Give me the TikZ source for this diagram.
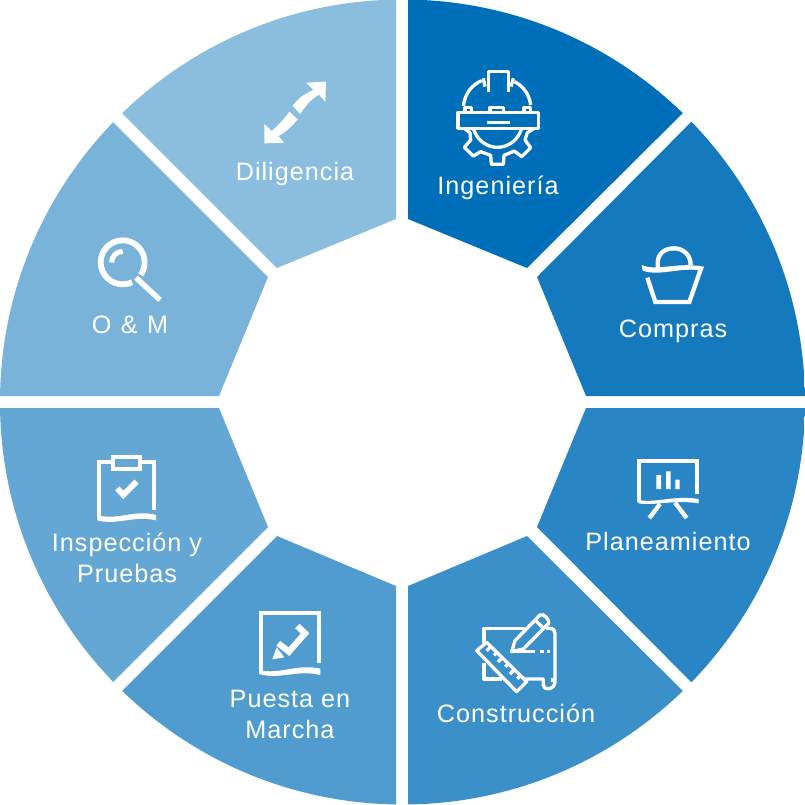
\documentclass[tikz,border=0pt]{standalone}
\usepackage{fontspec}
\setmainfont[LetterSpace=4]{Liberation Sans}
\definecolor{cA}{HTML}{006FB9}
\definecolor{cB}{HTML}{1579BE}
\definecolor{cC}{HTML}{2A85C4}
\definecolor{cD}{HTML}{3C90C9}
\definecolor{cE}{HTML}{509CCE}
\definecolor{cF}{HTML}{65A7D4}
\definecolor{cG}{HTML}{7AB3DA}
\definecolor{cH}{HTML}{8BBDDF}
\tikzset{
  lab/.style={text=white,align=center,inner sep=0pt,font=\fontsize{25.2}{31}\selectfont},
  ico/.style={draw=white,line width=4.3pt,line join=miter,fill=none},
  icothin/.style={draw=white,line width=3.3pt,line join=round,fill=none},
  zoomed/.style={scale=1/3}
}
\begin{document}
\begin{tikzpicture}[x=1pt,y=1pt,yscale=-1]
\useasboundingbox (0,0) rectangle (805,804);
\begin{scope}
\clip (402.5,402) circle (402.5);
\fill[cA] (408,-20) -- (408,219) -- (527,268) -- (703,93) -- (703,-20) -- cycle;
\fill[cB] (711,102) -- (537,277) -- (586,396) -- (825,396) -- (825,102) -- cycle;
\fill[cC] (825,408) -- (586,408) -- (537,527) -- (711,702) -- (825,702) -- cycle;
\fill[cD] (703,711) -- (527,536) -- (408,586) -- (408,824) -- (703,824) -- cycle;
\fill[cE] (396,824) -- (396,586) -- (277,536) -- (102,711) -- (102,824) -- cycle;
\fill[cF] (93,702) -- (268,527) -- (219,408) -- (-20,408) -- (-20,702) -- cycle;
\fill[cG] (-20,396) -- (219,396) -- (268,277) -- (93,102) -- (-20,102) -- cycle;
\fill[cH] (102,93) -- (277,268) -- (396,219) -- (396,-20) -- (102,-20) -- cycle;
\end{scope}
% Ingenieria helmet
\begin{scope}[shift={(420,50)},zoomed]
\draw[icothin] (205,125) -- (205,65) -- (265,65) -- (265,125);
\draw[icothin] (190,85) -- (195,110) (280,85) -- (273,110);
\draw[icothin] (130,168) .. controls (135,130) and (155,105) .. (185,92);
\draw[icothin] (283,95) .. controls (305,105) and (328,130) .. (332,165);
\draw[icothin] (114,187) rectangle (355,235);
\draw[icothin] (270,217) -- (200,217);
\draw[icothin] (135,187) -- (135,172) -- (155,172) -- (155,187);
\draw[icothin] (210,187) -- (210,172) -- (250,172) -- (250,187);
\draw[icothin] (312,187) -- (312,172) -- (332,172) -- (332,187);
\draw[icothin] (160,235) .. controls (170,270) and (200,292) .. (232,292) .. controls (265,292) and (295,270) .. (305,235);
\draw[icothin] (135,237) -- (150,248) -- (152,270) -- (133,292) -- (160,318) -- (182,305) -- (212,316) -- (214,343) -- (250,343) -- (252,316) -- (283,303) -- (305,320) -- (332,293) -- (315,270) -- (322,248) -- (340,237);
\end{scope}
% Compras basket
\begin{scope}[shift={(600,230)},zoomed]
\draw[ico] (173,115) -- (173,100) .. controls (173,70) and (195,55) .. (222,55) .. controls (250,55) and (272,75) .. (272,105);
\fill[white] (125,105) .. controls (170,125) and (230,95) .. (312,110) -- (308,122) .. controls (240,110) and (180,140) .. (128,122) -- cycle;
\draw[ico] (142,143) -- (166,216) -- (268,216) -- (302,118);
\end{scope}
% Planeamiento board
\begin{scope}[shift={(610,440)},zoomed]
\draw[ico] (262,162) -- (262,62) -- (88,62) -- (88,185);
\fill[white] (85,180) .. controls (140,190) and (190,165) .. (266,177) -- (266,190) .. controls (190,178) and (140,198) .. (85,190) -- cycle;
\draw[ico] (150,192) -- (118,234);
\draw[ico] (195,188) -- (230,234);
\fill[white] (139,105) rectangle (153,147) (168,94) rectangle (182,147) (196,119) rectangle (209,147);
\end{scope}
% Construccion
\begin{scope}[shift={(460,600)},zoomed]
\draw[icothin] (72,130) -- (72,85) -- (195,85);
\draw[icothin] (258,85) -- (270,85) .. controls (280,85) and (285,92) .. (285,100) -- (285,245) .. controls (285,258) and (275,266) .. (265,266) .. controls (255,266) and (250,262) .. (250,255) -- (250,237) -- (195,237);
\draw[icothin] (72,190) -- (72,237) -- (125,237);
\draw[icothin] (272,240) -- (285,240);
\draw[icothin] (80,127) -- (200,245) -- (170,275) -- (50,152) -- cycle;
\draw[icothin] (92,140) -- (80,152) (110,158) -- (102,166) (126,174) -- (114,186) (144,192) -- (136,200) (162,210) -- (150,222) (180,228) -- (172,236);
\draw[icothin] (155,155) -- (165,122) -- (240,45) .. controls (250,38) and (270,60) .. (266,70) -- (190,147) -- cycle;
\draw[icothin] (225,60) -- (252,86);
\draw[icothin] (155,155) -- (226,155);
\draw[icothin] (240,155) -- (252,155) (260,155) -- (270,155);
\end{scope}
% Puesta en Marcha
\begin{scope}[shift={(240,600)},zoomed]
\draw[ico] (236,188) -- (236,40) -- (64,40) -- (64,215);
\fill[white] (57,210) .. controls (120,225) and (170,190) .. (241,206) -- (241,225) .. controls (170,208) and (120,240) .. (57,222) -- cycle;
\draw[white,line width=6.2pt] (115,130) -- (147,155) -- (195,100) -- (172,78);
\fill[white] (97,178) -- (110,142) -- (133,172) -- cycle;
\end{scope}
% Inspeccion
\begin{scope}[shift={(80,445)},zoomed]
\draw[ico] (95,52) -- (58,52) -- (58,215);
\draw[ico] (185,52) -- (222,52) -- (222,195);
\draw[ico] (99,35) rectangle (181,72);
\fill[white] (52,210) .. controls (110,228) and (165,192) .. (228,210) -- (228,226) .. controls (165,210) and (110,242) .. (52,226) -- cycle;
\draw[white,line width=5.8pt] (112,130) -- (130,150) -- (170,110);
\end{scope}
% O y M
\begin{scope}[shift={(80,225)},zoomed]
\draw[white,line width=5.8pt] (128,112) ++(65:66) arc[start angle=65,end angle=395,radius=66];
\draw[white,line width=5pt] (128,112) ++(180:33) arc[start angle=180,end angle=270,radius=33];
\draw[white,line width=5.4pt] (168,158) -- (240,225);
\end{scope}
% Diligencia
\begin{scope}[shift={(245,70)},zoomed]
\fill[white] (243,35) -- (183,38) -- (205,60) .. controls (180,70) and (160,85) .. (143,107) -- (165,132) .. controls (180,110) and (200,85) .. (222,74) -- (241,95) -- cycle;
\fill[white] (58,220) -- (58,162) -- (80,183) .. controls (100,165) and (120,145) .. (133,125) -- (158,148) .. controls (140,170) and (120,188) .. (100,198) -- (117,218) -- cycle;
\end{scope}
% Labels
\node[lab] (l1) at (498,188) {Ingeniería};
\node[lab] (l2) at (673,331) {Compras};
\node[lab] (l3) at (668,541) {Planeamiento};
\node[lab] (l4) at (516,713) {Construcción};
\node[lab] (l5) at (290,714) {Puesta en\\Marcha};
\node[lab] (l6) at (127,558) {Inspección y\\Pruebas};
\node[lab] (l7) at (130,325) {O\hspace{1.5pt} \& \hspace{1.5pt}M};
\node[lab] (l8) at (295,174) {Diligencia};
\end{tikzpicture}
\end{document}
